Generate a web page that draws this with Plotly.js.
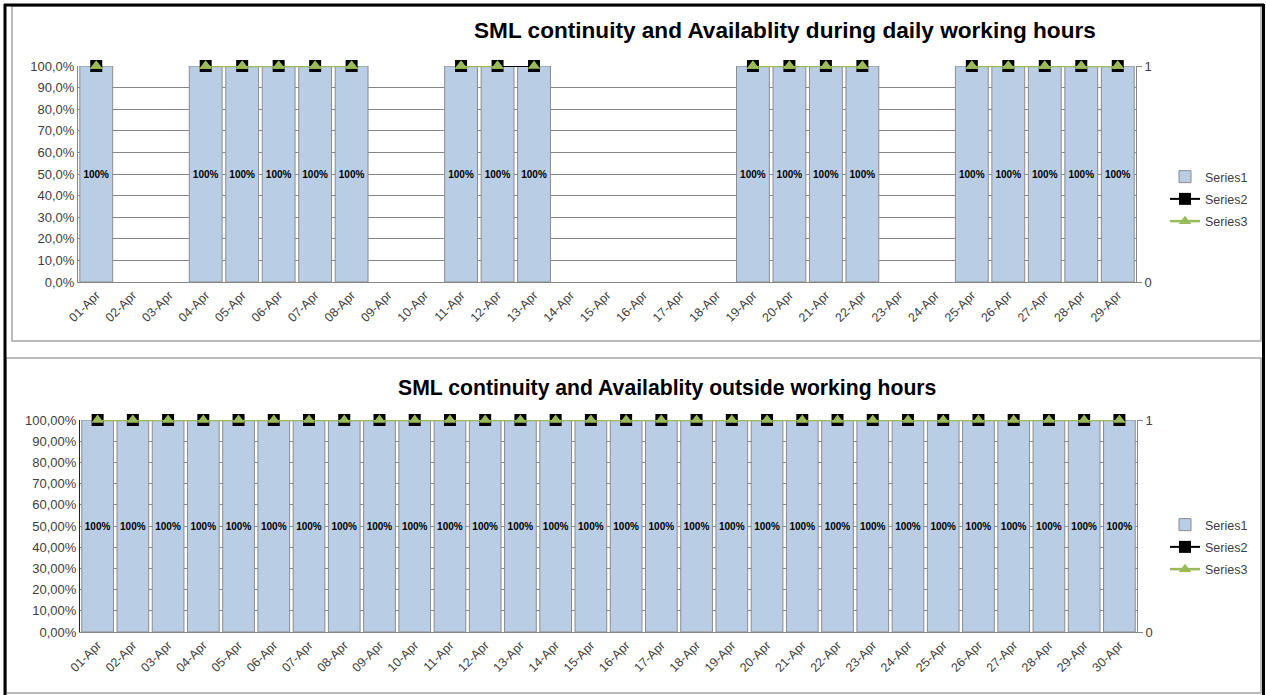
<!DOCTYPE html>
<html><head><meta charset="utf-8">
<script src="https://cdn.plot.ly/plotly-3.0.1.min.js"></script>
<style>html,body{margin:0;padding:0;background:#fff}#chart{width:1266px;height:695px}</style>
</head><body><div id="chart"></div>
<script>
// ---- data ----
const topTitle = 'SML continuity and Availablity during daily working hours';
const bottomTitle = 'SML continuity and Availablity outside working hours';

const topDates = ['01-Apr','02-Apr','03-Apr','04-Apr','05-Apr','06-Apr','07-Apr','08-Apr','09-Apr','10-Apr',
  '11-Apr','12-Apr','13-Apr','14-Apr','15-Apr','16-Apr','17-Apr','18-Apr','19-Apr','20-Apr',
  '21-Apr','22-Apr','23-Apr','24-Apr','25-Apr','26-Apr','27-Apr','28-Apr','29-Apr'];
const topSeries1 = [1,null,null,1,1,1,1,1,null,null,1,1,1,null,null,null,null,null,1,1,1,1,null,null,1,1,1,1,1];
const topSeries2 = [1,null,null,1,1,1,1,1,null,null,1,1,1,null,null,null,null,null,1,1,1,1,null,null,1,1,1,1,1];
const topSeries3 = [1,null,null,1,1,1,1,1,null,null,1,1,1,null,null,null,null,null,1,1,1,1,null,null,1,1,1,1,1];
// Series3 line is not drawn into 13-Apr (only its marker shows there)
const topSeries3Line = [1,null,null,1,1,1,1,1,null,null,1,1,null,null,null,null,null,null,1,1,1,1,null,null,1,1,1,1,1];

const bottomDates = ['01-Apr','02-Apr','03-Apr','04-Apr','05-Apr','06-Apr','07-Apr','08-Apr','09-Apr','10-Apr',
  '11-Apr','12-Apr','13-Apr','14-Apr','15-Apr','16-Apr','17-Apr','18-Apr','19-Apr','20-Apr',
  '21-Apr','22-Apr','23-Apr','24-Apr','25-Apr','26-Apr','27-Apr','28-Apr','29-Apr','30-Apr'];
const bottomSeries1 = [1,1,1,1,1,1,1,1,1,1,1,1,1,1,1,1,1,1,1,1,1,1,1,1,1,1,1,1,1,1];
const bottomSeries2 = [1,1,1,1,1,1,1,1,1,1,1,1,1,1,1,1,1,1,1,1,1,1,1,1,1,1,1,1,1,1];
const bottomSeries3 = [1,1,1,1,1,1,1,1,1,1,1,1,1,1,1,1,1,1,1,1,1,1,1,1,1,1,1,1,1,1];

const pctTickVals = [0,0.1,0.2,0.3,0.4,0.5,0.6,0.7,0.8,0.9,1];
const topPctTickText = ['0,0%','10,0%','20,0%','30,0%','40,0%','50,0%','60,0%','70,0%','80,0%','90,0%','100,0%'];
const bottomPctTickText = ['0,00%','10,00%','20,00%','30,00%','40,00%','50,00%','60,00%','70,00%','80,00%','90,00%','100,00%'];
const rightTickVals = [0,1];
const rightTickText = ['0','1'];
const seriesNames = ['Series1','Series2','Series3'];

// ---- styling ----
const W = 1266, H = 695;
const px = v => v / W, py = v => 1 - v / H;
const FONT = 'Liberation Sans, Arial, sans-serif';
const barFill = '#B9CDE5', barLine = '#8C8C8C', green = '#9BBB59', grid = '#868686', txt = '#404040';

function barTrace(x, y, xa, ya, legend) {
  return {type:'bar', x, y, xaxis:xa, yaxis:ya, name:seriesNames[0], legend, legendgroup:legend+'s1',
    marker:{color:barFill, line:{color:barLine, width:1}},
    texttemplate:'%{y:.0%}', textposition:'inside', insidetextanchor:'middle', textangle:0,
    constraintext:'none',
    textfont:{family:FONT, size:10, color:'#000', weight:700}, hoverinfo:'skip'};
}
function s2Trace(x, y, xa, ya, legend) {
  return {type:'scatter', mode:'lines+markers', x, y, xaxis:xa, yaxis:ya, name:seriesNames[1], legend,
    legendgroup:legend+'s2',
    line:{color:'#000', width:2}, marker:{symbol:'square', size:12, color:'#000'},
    cliponaxis:false, connectgaps:false, hoverinfo:'skip'};
}
function s3Trace(x, y, xa, ya, legend, mode, show) {
  return {type:'scatter', mode, x, y, xaxis:xa, yaxis:ya, name:seriesNames[2], legend, showlegend:show,
    legendgroup:legend+'s3',
    line:{color:green, width:2.5}, marker:{symbol:'triangle-up', size:11, color:green},
    cliponaxis:false, connectgaps:false, hoverinfo:'skip'};
}

const data = [
  barTrace(topDates, topSeries1, 'x', 'y', 'legend'),
  s2Trace(topDates, topSeries2, 'x', 'y3', 'legend'),
  s3Trace(topDates, topSeries3Line, 'x', 'y3', 'legend', 'lines+markers', true),
  s3Trace(topDates, topSeries3, 'x', 'y3', 'legend', 'markers', false),
  barTrace(bottomDates, bottomSeries1, 'x2', 'y2', 'legend2'),
  s2Trace(bottomDates, bottomSeries2, 'x2', 'y4', 'legend2'),
  s3Trace(bottomDates, bottomSeries3, 'x2', 'y4', 'legend2', 'lines+markers', true)
];

const yTickFont = {family:FONT, size:13, color:txt};
const xTickFont = {family:FONT, size:12.5, color:txt};
const xBase = {type:'category', tickangle:-45, showline:true, linecolor:grid, linewidth:1,
  showgrid:false, ticks:'', tickfont:xTickFont, fixedrange:true};
const yBase = {range:[0,1], tickvals:pctTickVals, showgrid:true, gridcolor:grid, gridwidth:1,
  showline:true, linecolor:grid, zeroline:false, ticks:'', ticklen:0,
  tickfont:yTickFont, fixedrange:true};
const yRight = {range:[0,1], tickvals:rightTickVals, ticktext:rightTickText, side:'right',
  showgrid:false, zeroline:false, showline:true, linecolor:grid, ticks:'outside', ticklen:5,
  tickcolor:grid, tickfont:yTickFont, fixedrange:true};
const legendBase = {xanchor:'left', yanchor:'top', bgcolor:'rgba(0,0,0,0)',
  font:{family:FONT, size:12.5, color:txt}, itemwidth:30, traceorder:'grouped', tracegroupgap:3};

const layout = {
  width:W, height:H, margin:{l:0,r:0,t:0,b:0}, paper_bgcolor:'#fff', plot_bgcolor:'#fff',
  bargap:0.1, showlegend:true,
  xaxis:Object.assign({}, xBase, {domain:[px(78), px(1136)], anchor:'y', range:[-0.5, topDates.length-0.5]}),
  yaxis:Object.assign({}, yBase, {domain:[py(282), py(66)], anchor:'x', ticktext:topPctTickText}),
  yaxis3:Object.assign({}, yRight, {overlaying:'y', anchor:'x'}),
  xaxis2:Object.assign({}, xBase, {domain:[px(80), px(1137)], anchor:'y2', range:[-0.5, bottomDates.length-0.5]}),
  yaxis2:Object.assign({}, yBase, {domain:[py(632), py(420)], anchor:'x2', ticktext:bottomPctTickText, linecolor:'#222'}),
  yaxis4:Object.assign({}, yRight, {overlaying:'y2', anchor:'x2'}),
  legend:Object.assign({}, legendBase, {x:px(1165), y:py(162)}),
  legend2:Object.assign({}, legendBase, {x:px(1165), y:py(510)}),
  annotations:[
    {text:topTitle, xref:'paper', yref:'paper', x:px(785), y:py(31), xanchor:'center', yanchor:'middle',
     showarrow:false, font:{family:FONT, size:22.6, color:'#000', weight:700}},
    {text:bottomTitle, xref:'paper', yref:'paper', x:px(667), y:py(388), xanchor:'center', yanchor:'middle',
     showarrow:false, font:{family:FONT, size:21.2, color:'#000', weight:700}}
  ],
  shapes:[
    {type:'rect', xref:'paper', yref:'paper', x0:px(12), x1:px(1261), y0:py(341), y1:py(6), line:{color:'#A6A6A6', width:1.5}},
    {type:'rect', xref:'paper', yref:'paper', x0:px(6), x1:px(1261), y0:py(693), y1:py(358), line:{color:'#A6A6A6', width:1.5}},
    {type:'line', xref:'paper', yref:'paper', x0:px(5), x1:px(5), y0:py(4), y1:py(695), line:{color:'#000', width:3}},
    {type:'line', xref:'paper', yref:'paper', x0:px(4), x1:px(1264), y0:py(5), y1:py(5), line:{color:'#000', width:3}},
    {type:'line', xref:'paper', yref:'paper', x0:px(1263.5), x1:px(1263.5), y0:py(4), y1:py(695), line:{color:'#000', width:3}}
  ]
};

Plotly.newPlot('chart', data, layout, {staticPlot:true, displayModeBar:false});
</script>
</body></html>
